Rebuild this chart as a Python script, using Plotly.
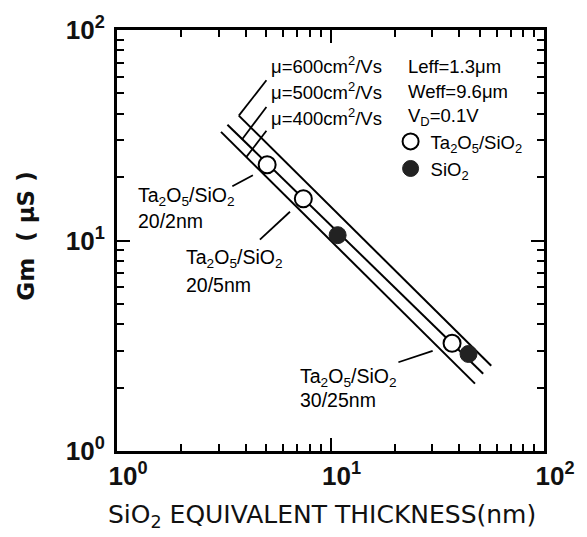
import plotly.graph_objects as go

# ---------------- data ----------------
# theoretical lines (start / end points)
line600_x = [3.72, 56.6]
line600_y = [39.2, 2.54]
line500_x = [3.29, 51.9]
line500_y = [35.5, 2.33]
line400_x = [3.07, 47.5]
line400_y = [32.8, 2.09]

# measured points
ta_x = [5.05, 7.46, 37.1]      # Ta2O5/SiO2 (open circles)
ta_y = [22.9, 15.8, 3.25]
si_x = [10.8, 44.3]            # SiO2 (filled circles)
si_y = [10.6, 2.89]

# leader lines (label -> line / point)
lead600_x = [5.01, 3.72]
lead600_y = [57.7, 39.2]
lead500_x = [5.01, 3.85]
lead500_y = [43.1, 30.2]
lead400_x = [5.01, 4.03]
lead400_y = [33.2, 24.9]
leadA_x = [3.47, 4.33]
leadA_y = [18.1, 20.4]
leadB_x = [4.67, 6.46]
leadB_y = [10.1, 13.7]
leadC_x = [20.8, 30.1]
leadC_y = [2.64, 2.99]

tick_vals = [1, 10, 100]
tick_text = ["10<sup>0</sup>", "10<sup>1</sup>", "10<sup>2</sup>"]
minor_vals = [k * 10 ** e for e in (0, 1) for k in range(2, 10)]

TA = "Ta<sub>2</sub>O<sub>5</sub>/SiO<sub>2</sub>"
SI = "SiO<sub>2</sub>"

# ---------------- figure ----------------
W, H = 587, 537
L, R, T, B = 117, 33, 25, 86
pw, ph = W - L - R, H - T - B

def px(xp, yp):
    return (xp - L) / pw, (H - B - yp) / ph

fig = go.Figure()

line_style = dict(color="black", width=2)
for xs, ys in [(line600_x, line600_y), (line500_x, line500_y), (line400_x, line400_y)]:
    fig.add_trace(go.Scatter(x=xs, y=ys, mode="lines", line=line_style,
                             showlegend=False, hoverinfo="skip"))
for xs, ys in [(lead600_x, lead600_y), (lead500_x, lead500_y), (lead400_x, lead400_y),
               (leadA_x, leadA_y), (leadB_x, leadB_y), (leadC_x, leadC_y)]:
    fig.add_trace(go.Scatter(x=xs, y=ys, mode="lines", line=dict(color="black", width=1.8),
                             showlegend=False, hoverinfo="skip"))

fig.add_trace(go.Scatter(x=ta_x, y=ta_y, mode="markers", name=TA,
                         marker=dict(symbol="circle", size=17, color="white",
                                     line=dict(color="black", width=2))))
fig.add_trace(go.Scatter(x=si_x, y=si_y, mode="markers", name=SI,
                         marker=dict(symbol="circle", size=17, color="#222",
                                     line=dict(color="#222", width=1))))

txt_font = dict(family="Liberation Sans, Arial, sans-serif", size=18.5, color="black")
lab_font = dict(family="Liberation Sans, Arial, sans-serif", size=19.5, color="black")

annots = [
    ("μ=600cm<sup>2</sup>/Vs", 273, 60, txt_font),
    ("μ=500cm<sup>2</sup>/Vs", 273, 87, txt_font),
    ("μ=400cm<sup>2</sup>/Vs", 273, 113, txt_font),
    ("Leff=1.3μm", 413, 62, txt_font),
    ("Weff=9.6μm", 413, 87, txt_font),
    ("V<sub>D</sub>=0.1V", 413, 113, txt_font),
    (TA, 136, 193, lab_font),
    ("20/2nm", 136, 218, lab_font),
    (TA, 186, 256, lab_font),
    ("20/5nm", 186, 283, lab_font),
    (TA, 302, 377, lab_font),
    ("30/25nm", 302, 399, lab_font),
]
for text, xp, yp, f in annots:
    xx, yy = px(xp, yp)
    fig.add_annotation(text=text, x=xx, y=yy, xref="paper", yref="paper",
                       xanchor="left", yanchor="middle", showarrow=False, font=f)

# axis titles as annotations
xx, yy = px(327, 517)
fig.add_annotation(text="SiO<sub>2</sub> EQUIVALENT THICKNESS(nm)", x=xx, y=yy,
                   xref="paper", yref="paper", xanchor="center", yanchor="middle",
                   showarrow=False,
                   font=dict(family="DejaVu Sans, sans-serif", size=25, color="#111"))
xx, yy = px(23, 234)
fig.add_annotation(text="Gm  ( μS )", x=xx, y=yy, textangle=-90,
                   xref="paper", yref="paper", xanchor="center", yanchor="middle",
                   showarrow=False,
                   font=dict(family="DejaVu Sans, sans-serif", size=23,
                             color="#111", weight="bold"))

axis_common = dict(
    type="log", range=[0, 2], showline=True, linecolor="black", linewidth=3,
    mirror="allticks", ticks="inside", ticklen=13, tickwidth=2, tickcolor="black",
    tickmode="array", tickvals=tick_vals, ticktext=tick_text,
    minor=dict(tickmode="array", tickvals=minor_vals, ticks="inside", ticklen=7,
               tickwidth=2, tickcolor="black", showgrid=False),
    showgrid=False, zeroline=False,
    tickfont=dict(family="Liberation Sans, Arial, sans-serif", size=26, color="#111",
                  weight="bold"),
)

fig.update_layout(
    width=W, height=H,
    margin=dict(l=L, r=R, t=T, b=B),
    paper_bgcolor="white", plot_bgcolor="white",
    xaxis=dict(axis_common, ticklabelshift=11),
    yaxis=dict(axis_common, ticklabelstandoff=4),
    legend=dict(x=px(397, 0)[0], y=px(0, 119)[1], xanchor="left", yanchor="top",
                bgcolor="rgba(0,0,0,0)", borderwidth=0,
                font=dict(family="Liberation Sans, Arial, sans-serif", size=18.5,
                          color="black"),
                itemsizing="trace", tracegroupgap=0),
)

fig.write_html("out.html")
